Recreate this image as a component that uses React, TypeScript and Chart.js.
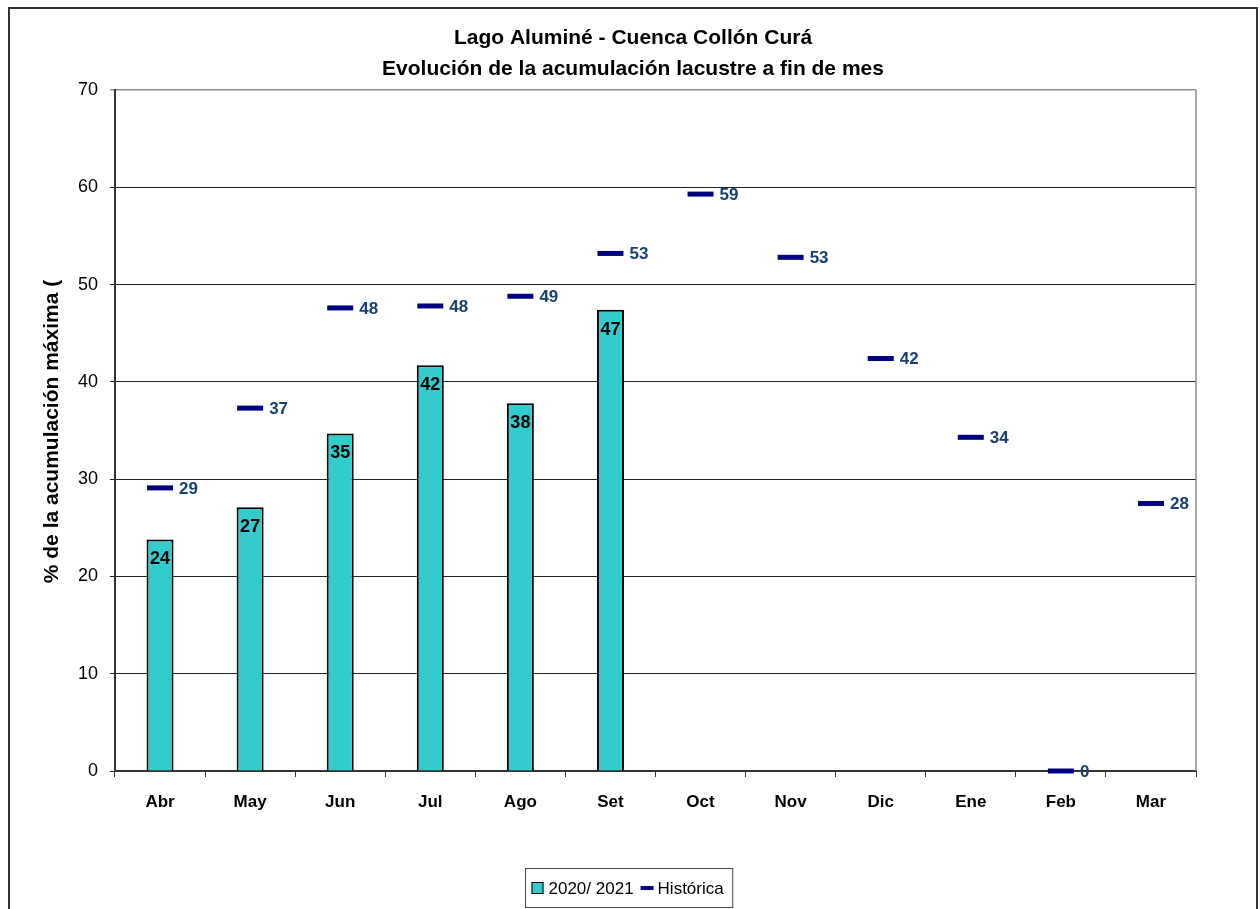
import React, { useEffect, useRef } from "react";
import { Chart, registerables } from "chart.js";

Chart.register(...registerables);

// ---- data ----
const months = ["Abr", "May", "Jun", "Jul", "Ago", "Set", "Oct", "Nov", "Dic", "Ene", "Feb", "Mar"];
const season2020 = [23.8, 27.1, 34.7, 41.7, 37.8, 47.4, null, null, null, null, null, null];
const historic = [29.1, 37.3, 47.6, 47.8, 48.8, 53.2, 59.3, 52.8, 42.4, 34.3, 0, 27.5];
const yMin = 0;
const yMax = 70;
const yStep = 10;
const titleLines = ["Lago Aluminé - Cuenca Collón Curá", "Evolución de la acumulación lacustre a fin de mes"];
const yTitle = "% de la acumulación máxima (";
const seriesNames = ["2020/ 2021", "Histórica"];

const FONT = "'Liberation Sans', Arial, Helvetica, sans-serif";
const TEAL = "#33CCCC";
const NAVY = "#000080";
const LABEL_BLUE = "#17406e";

const decorPlugin = {
  id: "decor",
  beforeDraw(chart: any) {
    const ctx = chart.ctx;
    ctx.save();
    ctx.fillStyle = "#ffffff";
    ctx.fillRect(0, 0, chart.width, chart.height);
    ctx.strokeStyle = "#333333";
    ctx.lineWidth = 2;
    ctx.strokeRect(9, 8, 1248, 960);
    ctx.restore();
  },
  afterDatasetsDraw(chart: any) {
    const ctx = chart.ctx;
    ctx.save();
    // bar labels
    const m0 = chart.getDatasetMeta(0);
    ctx.font = `bold 18px ${FONT}`;
    ctx.fillStyle = "#000";
    ctx.textAlign = "center";
    ctx.textBaseline = "middle";
    m0.data.forEach((el: any, i: number) => {
      const v = chart.data.datasets[0].data[i];
      if (v === null || v === undefined) return;
      ctx.fillText(String(Math.round(v)), el.x, el.y + 20);
    });
    // historic labels
    const m1 = chart.getDatasetMeta(1);
    ctx.font = `bold 17px ${FONT}`;
    ctx.fillStyle = LABEL_BLUE;
    ctx.textAlign = "left";
    m1.data.forEach((el: any, i: number) => {
      const v = chart.data.datasets[1].data[i];
      if (v === null || v === undefined) return;
      ctx.fillText(String(Math.round(v)), el.x + 19, el.y + 1);
    });
    ctx.restore();
  },
  afterDraw(chart: any) {
    const ctx = chart.ctx;
    const area = chart.chartArea;
    ctx.save();
    // right border of plot area
    ctx.strokeStyle = "#8c8c8c";
    ctx.lineWidth = 1.5;
    ctx.beginPath();
    ctx.moveTo(area.right, area.top);
    ctx.lineTo(area.right, area.bottom);
    ctx.stroke();

    // titles
    ctx.fillStyle = "#000";
    ctx.font = `bold 21px ${FONT}`;
    ctx.textAlign = "center";
    ctx.textBaseline = "alphabetic";
    ctx.fillText(titleLines[0], 633, 44);
    ctx.fillText(titleLines[1], 633, 75);

    // y title
    ctx.save();
    ctx.translate(52, (area.top + area.bottom) / 2 + 1);
    ctx.rotate(-Math.PI / 2);
    ctx.font = `bold 21px ${FONT}`;
    ctx.textAlign = "center";
    ctx.textBaseline = "middle";
    ctx.fillText(yTitle, 0, 0);
    ctx.restore();

    // legend
    ctx.font = `17px ${FONT}`;
    const ds = chart.data.datasets;
    const w0 = ctx.measureText(ds[0].label).width;
    const w1 = ctx.measureText(ds[1].label).width;
    const padL = 6, sq = 12, g1 = 5, g2 = 7, dash = 13, g3 = 4, padR = 9;
    const total = padL + sq + g1 + w0 + g2 + dash + g3 + w1 + padR;
    const bx = Math.round(629 - total / 2) + 0.5;
    const by = 868.5;
    const bh = 39;
    ctx.strokeStyle = "#444";
    ctx.lineWidth = 1;
    ctx.strokeRect(bx, by, total, bh);
    const cy = by + bh / 2;
    let x = bx + padL;
    ctx.fillStyle = ds[0].backgroundColor;
    ctx.fillRect(x, cy - 6, sq, sq);
    ctx.strokeStyle = "#000";
    ctx.lineWidth = 1;
    ctx.strokeRect(x + 0.5, cy - 5.5, sq - 1, sq - 1);
    x += sq + g1;
    ctx.fillStyle = "#000";
    ctx.textAlign = "left";
    ctx.textBaseline = "middle";
    ctx.fillText(ds[0].label, x, cy + 1);
    x += w0 + g2;
    ctx.fillStyle = ds[1].borderColor;
    ctx.fillRect(x, cy - 2, dash, 4);
    x += dash + g3;
    ctx.fillStyle = "#000";
    ctx.fillText(ds[1].label, x, cy + 1);
    ctx.restore();
  },
};

export default function App() {
  const ref = useRef<HTMLCanvasElement | null>(null);

  useEffect(() => {
    if (!ref.current) return;
    const chart = new Chart(ref.current, {
      type: "bar",
      data: {
        labels: months,
        datasets: [
          {
            type: "bar",
            label: seriesNames[0],
            data: season2020 as any,
            backgroundColor: TEAL,
            borderColor: "#000",
            borderWidth: 2,
            categoryPercentage: 1,
            barPercentage: 0.3,
            order: 2,
          },
          {
            type: "line",
            label: seriesNames[1],
            data: historic,
            showLine: false,
            pointStyle: "line",
            pointRadius: 13,
            pointHoverRadius: 13,
            borderWidth: 5,
            pointBorderWidth: 5,
            borderColor: NAVY,
            pointBorderColor: NAVY,
            backgroundColor: NAVY,
            clip: false as any,
            order: 1,
          } as any,
        ],
      },
      options: {
        responsive: false,
        animation: false,
        events: [],
        layout: { padding: { top: 90, right: 64, bottom: 0, left: 0 } },
        plugins: {
          legend: { display: false },
          title: { display: false },
          tooltip: { enabled: false },
        },
        scales: {
          x: {
            offset: true,
            afterFit: (s: any) => {
              s.height = 138;
            },
            grid: {
              offset: true,
              drawOnChartArea: false,
              drawTicks: true,
              tickLength: 6,
              color: "#333",
              lineWidth: 1,
            },
            border: { color: "#333", width: 2 },
            ticks: {
              color: "#000",
              font: { family: FONT, size: 17, weight: "bold" },
              padding: 15,
              maxRotation: 0,
              autoSkip: false,
            },
          },
          y: {
            min: yMin,
            max: yMax,
            afterFit: (s: any) => {
              s.width = 115;
            },
            grid: {
              color: (c: any) => (c.tick && c.tick.value === yMax ? "#8c8c8c" : "#222"),
              lineWidth: (c: any) => (c.tick && c.tick.value === yMax ? 1.5 : 1),
              tickLength: 5,
            },
            border: { color: "#333", width: 2 },
            ticks: {
              stepSize: yStep,
              color: "#000",
              font: { family: FONT, size: 18 },
              padding: 12,
            },
          },
        },
      },
      plugins: [decorPlugin],
    });
    return () => chart.destroy();
  }, []);

  return (
    <div style={{ position: "fixed", left: 0, top: 0, width: 1260, height: 909, background: "#fff" }}>
      <canvas ref={ref} width={1260} height={909} style={{ width: 1260, height: 909, display: "block" }} />
    </div>
  );
}
